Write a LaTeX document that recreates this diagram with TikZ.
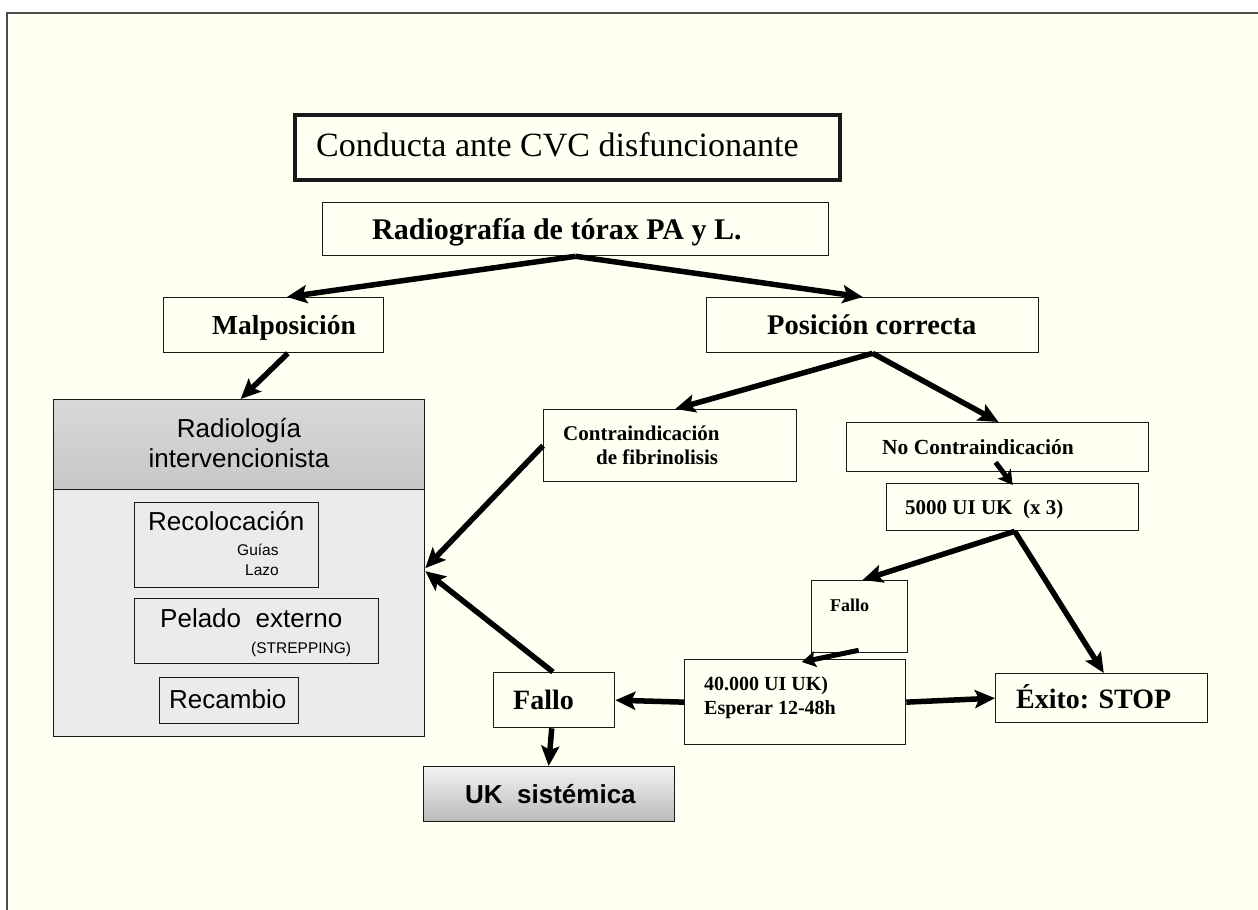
\documentclass[tikz,border=0pt]{standalone}
\usepackage{fontspec}
\setmainfont{Liberation Serif}
\newfontfamily\arialf{Liberation Sans}
\usetikzlibrary{arrows.meta,calc}
\definecolor{bgc}{RGB}{255,255,242}
\definecolor{ink}{RGB}{25,25,25}
\definecolor{panel}{RGB}{235,235,235}
\begin{document}
\begin{tikzpicture}[x=1pt,y=-1pt,
  box/.style={draw=ink,line width=1.3pt,inner sep=0pt,fill=bgc,anchor=north west},
  thickbox/.style={box,line width=4pt},
  gbox/.style={draw=ink,line width=1.3pt,inner sep=0pt,anchor=north west,fill=panel},
  txt/.style={inner sep=0pt,anchor=base west},
  tb/.style={txt,font=\bfseries\fontsize{#1}{#1}\selectfont},
  ta/.style={txt,font=\arialf\fontsize{#1}{#1}\selectfont},
  arr/.style={draw=black,line width=5.5pt,-{Stealth[length=20pt,width=18pt,inset=4pt]}},
  sarr/.style={draw=black,line width=5pt,-{Stealth[length=14pt,width=16pt,inset=3pt]}}
]
\useasboundingbox (0,0) rectangle (1258,910);
\fill[white] (0,0) rectangle (1258,910);
\fill[bgc] (7,13) rectangle (1258,910);
\draw[black!70,line width=1.6pt] (7,910) -- (7,13) -- (1258,13);

% title
\node[thickbox,minimum width=545pt,minimum height=65pt] (title) at (293,113) {};
\node[txt,font=\fontsize{34}{34}\selectfont] (titletxt) at (316,156) {Conducta ante CVC disfuncionante};

% boxes
\node[box,minimum width=506pt,minimum height=53pt] (radio) at (322,202) {};
\node[tb=30] (radiotxt) at (372,239) {Radiografía de tórax PA y L.};

\node[box,minimum width=220pt,minimum height=55pt] (malpos) at (163,297) {};
\node[tb=27.5] (malpostxt) at (212,334) {Malposición};

\node[box,minimum width=332pt,minimum height=55pt] (posic) at (706,297) {};
\node[tb=28.5] (posictxt) at (767,334) {Posición correcta};

% radiologia intervencionista
\node[gbox,minimum width=371pt,minimum height=337pt] (radint) at (53,399) {};
\node[draw=ink,line width=1.3pt,inner sep=0pt,anchor=north west,minimum width=371pt,minimum height=90pt,
      top color=black!15,middle color=black!7,bottom color=black!22] (radhead) at (53,399) {};
\node[ta=26,anchor=base] (radt1) at (239,437) {Radiología};
\node[ta=26,anchor=base] (radt2) at (239,467) {intervencionista};

\node[gbox,minimum width=184pt,minimum height=85pt] (recol) at (134,502) {};
\node[ta=26] (recolt) at (148,530) {Recolocación};
\node[ta=15.5] (guias) at (237,555) {Guías};
\node[ta=15.5] (lazo) at (245,575) {Lazo};

\node[gbox,minimum width=244pt,minimum height=65pt] (pelado) at (134,598) {};
\node[ta=26] (peladot) at (160,627) {Pelado\ \ externo};
\node[ta=15.5] (strep) at (251,653) {(STREPPING)};

\node[gbox,minimum width=139pt,minimum height=46pt] (recamb) at (159,677) {};
\node[ta=26] (recambt) at (169,708) {Recambio};

% right branch
\node[box,minimum width=253pt,minimum height=72pt] (contra) at (543,409) {};
\node[tb=21] (contrat1) at (563,440) {Contraindicación};
\node[tb=21] (contrat2) at (596,464) {de fibrinolisis};

\node[box,minimum width=302pt,minimum height=49pt] (nocontra) at (846,422) {};
\node[tb=21.5] (nocontrat) at (882,454) {No Contraindicación};

\node[box,minimum width=252pt,minimum height=47pt] (cinco) at (886,483) {};
\node[tb=21] (cincot) at (905,514) {5000 UI UK\ \ (x 3)};

\node[box,minimum width=96pt,minimum height=72pt] (fallo1) at (811,580) {};
\node[tb=18] (fallo1t) at (830,611) {Fallo};

\node[box,minimum width=221pt,minimum height=85pt] (cuarenta) at (684,659) {};
\node[tb=20] (cuart1) at (704,690) {40.000 UI UK)};
\node[tb=20] (cuart2) at (704,714) {Esperar 12-48h};

\node[box,minimum width=212pt,minimum height=49pt] (exito) at (995,673) {};
\node[tb=28] (exitot) at (1016,708) {Éxito: STOP};

\node[box,minimum width=121pt,minimum height=55pt] (fallo2) at (493,672) {};
\node[tb=28] (fallo2t) at (513,709) {Fallo};

\node[draw=ink,line width=1.3pt,inner sep=0pt,anchor=north west,minimum width=251pt,minimum height=55pt,
      top color=black!5,bottom color=black!27] (uk) at (423,766) {};
\node[txt,font=\arialf\bfseries\fontsize{26}{26}\selectfont] (ukt) at (465,803) {UK\ \ sistémica};

% arrows
\draw[arr] (radio.south) -- ($(malpos.north west)!0.56!(malpos.north east)$);
\draw[arr] (radio.south) -- ($(posic.north west)!0.47!(posic.north east)$);
\draw[arr] ($(malpos.south west)!0.564!(malpos.south east)$) -- ($(radint.north west)!0.504!(radint.north east)$);
\draw[arr] (posic.south) -- ($(contra.north west)!0.52!(contra.north east)$);
\draw[arr] (posic.south) -- ($(nocontra.north west)!0.503!(nocontra.north east)$);
\draw[sarr] ($(nocontra.south)+(-2,-10)$) -- ($(cinco.north west)!0.5!(cinco.north east)+(0,2)$);
\draw[arr] (contra.west) -- (radint.east);
\draw[arr] ($(fallo2.north west)!0.49!(fallo2.north east)$) -- ($(radint.east)+(0,3)$);
\draw[arr] ($(cinco.south west)!0.508!(cinco.south east)$) -- ($(fallo1.north west)!0.53!(fallo1.north east)$);
\draw[arr] ($(cinco.south west)!0.508!(cinco.south east)$) -- ($(exito.north west)!0.51!(exito.north east)$);
\draw[sarr] ($(fallo1.south west)!0.49!(fallo1.south east)+(0,-3)$) -- ($(cuarenta.north west)!0.53!(cuarenta.north east)+(0,3)$);
\draw[arr] (cuarenta.west) -- (fallo2.east);
\draw[arr] (cuarenta.east) -- (exito.west);
\draw[arr] ($(fallo2.south west)!0.48!(fallo2.south east)$) -- ($(uk.north west)!0.498!(uk.north east)$);
\end{tikzpicture}
\end{document}
